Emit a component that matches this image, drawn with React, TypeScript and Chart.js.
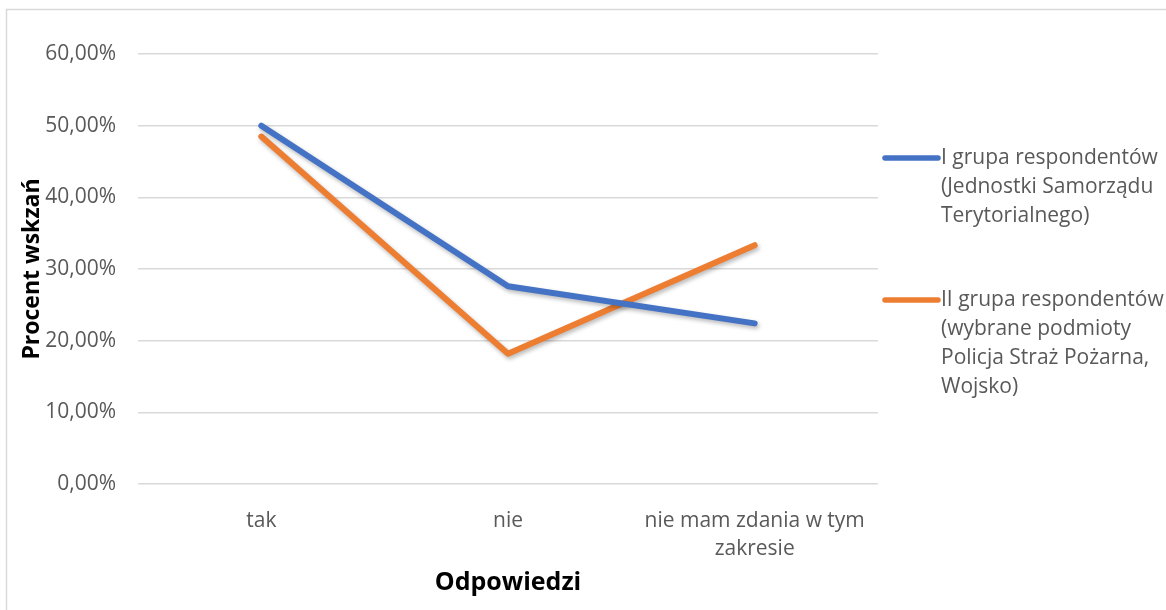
import React, { useEffect, useRef } from "react";
import { Chart, registerables } from "chart.js";

Chart.register(...registerables);

const categories: (string | string[])[] = ["tak", "nie", ["nie mam zdania w tym", "zakresie"]];
const seriesI: number[] = [50.0, 27.59, 22.41];
const seriesII: number[] = [48.48, 18.18, 33.33];
const legendI: string[] = ["I grupa respondentów", "(Jednostki Samorządu", "Terytorialnego)"];
const legendII: string[] = ["II grupa respondentów", "(wybrane podmioty", "Policja Straż Pożarna,", "Wojsko)"];
const yTitle = "Procent wskzań";
const xTitle = "Odpowiedzi";

const BLUE = "#4472C4";
const ORANGE = "#ED7D31";
const FONT = "'Open Sans', sans-serif";

export default function App() {
  const ref = useRef<HTMLCanvasElement | null>(null);

  useEffect(() => {
    if (!ref.current) return;
    const frame = {
      id: "frame",
      beforeDraw(chart: any) {
        const ctx = chart.ctx;
        ctx.save();
        ctx.fillStyle = "#ffffff";
        ctx.fillRect(0, 0, chart.width, chart.height);
        ctx.strokeStyle = "#d9d9d9";
        ctx.lineWidth = 1.5;
        ctx.strokeRect(6.5, 9.5, chart.width + 50, chart.height + 50);
        ctx.restore();
      },
    };
    const shadow = {
      id: "shadow",
      beforeDatasetsDraw(chart: any) {
        const ctx = chart.ctx;
        ctx.save();
        ctx.shadowColor = "rgba(0,0,0,0.28)";
        ctx.shadowBlur = 4;
        ctx.shadowOffsetX = 1.5;
        ctx.shadowOffsetY = 2.5;
      },
      afterDatasetsDraw(chart: any) {
        chart.ctx.restore();
      },
    };
    const legend = {
      id: "customLegend",
      afterDraw(chart: any) {
        const ctx = chart.ctx;
        const items = [
          { color: BLUE, lines: legendI, y: 158 },
          { color: ORANGE, lines: legendII, y: 300 },
        ];
        ctx.save();
        for (const it of items) {
          ctx.strokeStyle = it.color;
          ctx.lineWidth = 5.5;
          ctx.lineCap = "round";
          ctx.beginPath();
          ctx.moveTo(885, it.y);
          ctx.lineTo(938, it.y);
          ctx.stroke();
          ctx.fillStyle = "#595959";
          ctx.font = `21px ${FONT}`;
          ctx.textBaseline = "middle";
          ctx.textAlign = "left";
          it.lines.forEach((t, i) => ctx.fillText(t, 941, it.y + i * 29));
        }
        ctx.restore();
      },
    };

    const chart = new Chart(ref.current, {
      type: "line",
      data: {
        labels: categories as any,
        datasets: [
          {
            label: legendI.join(" "),
            data: seriesI,
            borderColor: BLUE,
            backgroundColor: BLUE,
            borderWidth: 6,
            pointRadius: 0,
            borderCapStyle: "round",
            borderJoinStyle: "round",
            tension: 0,
          },
          {
            label: legendII.join(" "),
            data: seriesII,
            borderColor: ORANGE,
            backgroundColor: ORANGE,
            borderWidth: 6,
            pointRadius: 0,
            borderCapStyle: "round",
            borderJoinStyle: "round",
            tension: 0,
          },
        ],
      },
      options: {
        responsive: false,
        animation: false,
        layout: { padding: { left: 0, right: 288, top: 54, bottom: 0 } },
        plugins: {
          legend: { display: false },
          tooltip: { enabled: false },
        },
        scales: {
          x: {
            type: "category",
            offset: true,
            grid: { display: false },
            border: { display: false },
            ticks: {
              color: "#595959",
              font: { family: FONT, size: 21, lineHeight: 1.33 },
              padding: 15,
              maxRotation: 0,
              autoSkip: false,
            },
            title: {
              display: true,
              text: xTitle,
              color: "#000000",
              font: { family: FONT, size: 25, weight: "bold" },
              padding: { top: 0, bottom: 12 },
            },
            afterFit(scale: any) {
              scale.height = 126;
            },
          },
          y: {
            min: 0,
            max: 60,
            grid: { color: "#d9d9d9", lineWidth: 1.5, drawTicks: false },
            border: { display: false },
            ticks: {
              stepSize: 10,
              color: "#595959",
              font: { family: FONT, size: 21 },
              padding: 22,
              callback: (v: any) => `${Number(v).toFixed(2).replace(".", ",")}%`,
            },
            title: {
              display: true,
              text: yTitle,
              color: "#000000",
              font: { family: FONT, size: 23, weight: "bold" },
              padding: { top: 19, bottom: 0 },
            },
            afterFit(scale: any) {
              scale.width = 138;
            },
          },
        },
      },
      plugins: [frame, shadow, legend],
    });
    return () => chart.destroy();
  }, []);

  return (
    <div style={{ position: "absolute", left: 0, top: 0, width: 1166, height: 610 }}>
      <canvas ref={ref} width={1166} height={610} />
    </div>
  );
}
